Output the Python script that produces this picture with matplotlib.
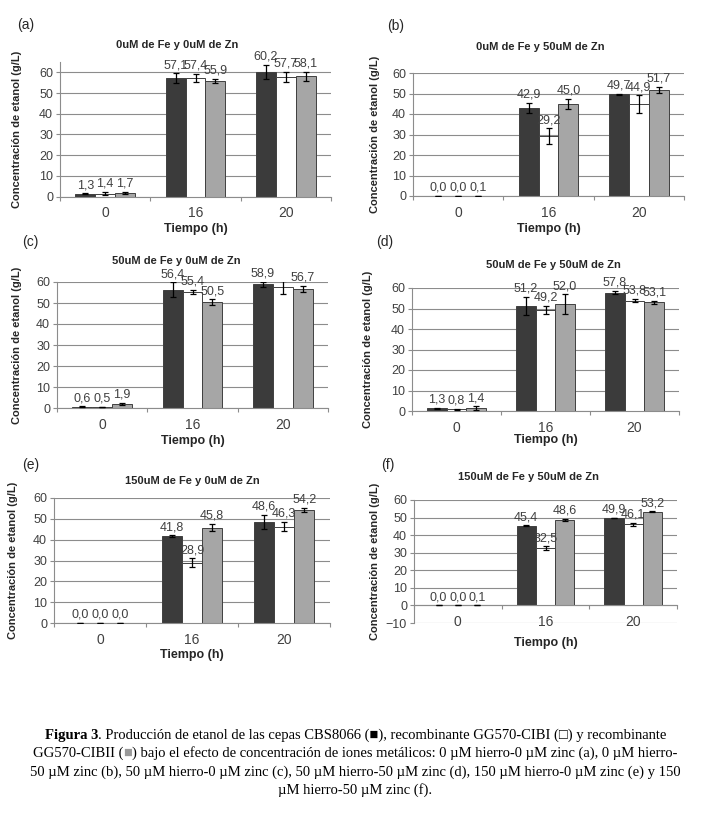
import matplotlib
matplotlib.use("Agg")
import matplotlib.pyplot as plt
import numpy as np

W, H = 711, 826

TIMES = ["0", "16", "20"]

# (a) 0uM de Fe y 0uM de Zn
a_cbs = [1.3, 57.1, 60.2]
a_cibi = [1.4, 57.4, 57.7]
a_cibii = [1.7, 55.9, 58.1]
a_cbs_err = [0.3, 2.4, 3.4]
a_cibi_err = [0.8, 1.9, 2.5]
a_cibii_err = [0.6, 1.1, 2.1]

# (b) 0uM de Fe y 50uM de Zn
b_cbs = [0.0, 42.9, 49.7]
b_cibi = [0.0, 29.2, 44.9]
b_cibii = [0.1, 45.0, 51.7]
b_cbs_err = [0.0, 2.5, 0.3]
b_cibi_err = [0.0, 3.8, 4.3]
b_cibii_err = [0.0, 2.5, 1.5]

# (c) 50uM de Fe y 0uM de Zn
c_cbs = [0.6, 56.4, 58.9]
c_cibi = [0.5, 55.4, 57.4]
c_cibii = [1.9, 50.5, 56.7]
c_cbs_err = [0.2, 3.5, 1.2]
c_cibi_err = [0.1, 1.0, 3.1]
c_cibii_err = [0.5, 1.3, 1.4]

# (d) 50uM de Fe y 50uM de Zn
d_cbs = [1.3, 51.2, 57.8]
d_cibi = [0.8, 49.2, 53.8]
d_cibii = [1.4, 52.0, 53.1]
d_cbs_err = [0.2, 4.5, 0.8]
d_cibi_err = [0.3, 2.1, 0.8]
d_cibii_err = [0.8, 4.9, 0.7]

# (e) 150uM de Fe y 0uM de Zn
e_cbs = [0.0, 41.8, 48.6]
e_cibi = [0.0, 28.9, 46.3]
e_cibii = [0.0, 45.8, 54.2]
e_cbs_err = [0.0, 0.3, 3.4]
e_cibi_err = [0.0, 2.2, 2.2]
e_cibii_err = [0.0, 1.8, 1.0]

# (f) 150uM de Fe y 50uM de Zn
f_cbs = [0.0, 45.4, 49.9]
f_cibi = [0.0, 32.5, 46.1]
f_cibii = [0.1, 48.6, 53.2]
f_cbs_err = [0.0, 0.2, 0.1]
f_cibi_err = [0.0, 1.1, 0.8]
f_cibii_err = [0.0, 0.8, 0.3]

TITLES = ["0uM de Fe y 0uM de Zn", "0uM de Fe y 50uM de Zn",
          "50uM de Fe y 0uM de Zn", "50uM de Fe y 50uM de Zn",
          "150uM de Fe y 0uM de Zn", "150uM de Fe y 50uM de Zn"]
LETTERS = ["(a)", "(b)", "(c)", "(d)", "(e)", "(f)"]
YLIMS = [(0, 65), (0, 60), (0, 60), (0, 60), (0, 60), (-10, 60)]

panels = [
    ((a_cbs, a_cibi, a_cibii), (a_cbs_err, a_cibi_err, a_cibii_err)),
    ((b_cbs, b_cibi, b_cibii), (b_cbs_err, b_cibi_err, b_cibii_err)),
    ((c_cbs, c_cibi, c_cibii), (c_cbs_err, c_cibi_err, c_cibii_err)),
    ((d_cbs, d_cibi, d_cibii), (d_cbs_err, d_cibi_err, d_cibii_err)),
    ((e_cbs, e_cibi, e_cibii), (e_cbs_err, e_cibi_err, e_cibii_err)),
    ((f_cbs, f_cibi, f_cibii), (f_cbs_err, f_cibi_err, f_cibii_err)),
]

# layout in pixels: left, right, top, bottom of plot area
BOXES = [(60, 331, 62, 196.5), (413, 684, 73, 196),
         (57, 328, 282, 408), (412, 679, 288, 411),
         (54, 330, 498, 623), (414, 677, 500, 623)]
TITLE_POS = [(177, 45), (540, 47), (176, 261), (553, 265), (192, 481), (529, 477)]
LETTER_POS = [(17, 25), (387, 26), (22, 242), (376, 242), (22, 465), (381, 465)]
YLAB_X = [22, 380, 22, 373, 18, 380]
XLAB_Y = [229, 229, 441, 440, 655, 643]

COLORS = ["#3b3b3b", "#ffffff", "#a6a6a6"]
SANS = ["Liberation Sans Narrow", "Liberation Sans", "DejaVu Sans"]
GRID = "#8c8c8c"
TXT = "#404040"

plt.rcParams["font.family"] = SANS

fig = plt.figure(figsize=(W / 100, H / 100), dpi=100)

x = np.arange(len(TIMES))
bw = 0.22

for i, ((vals, errs), box) in enumerate(zip(panels, BOXES)):
    l, r, t, b = box
    ax = fig.add_axes([l / W, 1 - b / H, (r - l) / W, (b - t) / H])
    for k in range(3):
        xs = x + (k - 1) * bw
        ax.bar(xs, vals[k], bw, color=COLORS[k], edgecolor="#404040",
               linewidth=0.7, zorder=2)
        ax.errorbar(xs, vals[k], yerr=errs[k], fmt="none", ecolor="black",
                    elinewidth=0.9, capsize=2.5, capthick=0.9, zorder=3)
        for xx, v, e in zip(xs, vals[k], errs[k]):
            ax.annotate(f"{v:.1f}".replace(".", ","), xy=(xx, v + e),
                        xytext=(0, 1.5), textcoords="offset points",
                        ha="center", va="bottom", fontsize=9, color=TXT)
    ax.set_xlim(-0.5, 2.5)
    ax.set_ylim(*YLIMS[i])
    ax.set_yticks(np.arange(YLIMS[i][0], 61, 10))
    ax.yaxis.grid(True, color=GRID, linewidth=0.8, zorder=0)
    ax.set_axisbelow(True)
    ax.set_xticks(x)
    ax.set_xticklabels(TIMES)
    ax.set_xticks([-0.5, 0.5, 1.5, 2.5], minor=True)
    ax.tick_params(axis="x", which="major", length=0, pad=7, labelsize=10,
                   labelcolor=TXT)
    ax.tick_params(axis="x", which="minor", length=3, color=GRID, width=0.8)
    ax.tick_params(axis="y", length=3, color=GRID, width=0.8, labelsize=9,
                   labelcolor=TXT, pad=2)
    for s in ["top", "right"]:
        ax.spines[s].set_visible(False)
    for s in ["left", "bottom"]:
        ax.spines[s].set_color(GRID)
        ax.spines[s].set_linewidth(0.8)
    if YLIMS[i][0] < 0:
        ax.spines["bottom"].set_position(("data", 0))
    ax.set_ylabel("Concentración de etanol (g/L)", fontsize=8,
                  fontweight="bold", color="#262626")
    ax.yaxis.set_label_coords((YLAB_X[i] - l) / (r - l), 0.5)
    fig.text((l + r) / 2 / W, 1 - XLAB_Y[i] / H, "Tiempo (h)", ha="center",
             va="center", fontsize=9, fontweight="bold", color="#262626")
    tx, ty = TITLE_POS[i]
    fig.text(tx / W, 1 - ty / H, TITLES[i], ha="center", va="center",
             fontsize=8, fontweight="bold", color="#262626")
    lx, ly = LETTER_POS[i]
    fig.text(lx / W, 1 - ly / H, LETTERS[i], ha="left", va="center",
             fontsize=10, color="#262626")

# caption
SERIF = ["Liberation Serif", "DejaVu Serif"]
CAP_SIZE = 10.5
cap_lines = [
    [("Figura 3", "bold", "black"),
     (". Producción de etanol de las cepas CBS8066 (■), recombinante GG570-CIBI (□) y recombinante",
      "normal", "black")],
    [("GG570-CIBII (", "normal", "black"), ("■", "normal", "#999999"),
     (") bajo el efecto de concentración de iones metálicos: 0 µM hierro-0 µM zinc (a), 0 µM hierro-",
      "normal", "black")],
    [("50 µM zinc (b), 50 µM hierro-0 µM zinc (c), 50 µM hierro-50 µM zinc (d), 150 µM hierro-0 µM zinc (e) y 150",
      "normal", "black")],
    [("µM hierro-50 µM zinc (f).", "normal", "black")],
]
CAP_Y = [735, 753, 772, 790]

renderer = fig.canvas.get_renderer()
for pieces, yy in zip(cap_lines, CAP_Y):
    arts = [fig.text(0, 1 - yy / H, s, ha="left", va="center",
                     fontsize=CAP_SIZE, fontweight=wt, color=col, family=SERIF)
            for s, wt, col in pieces]
    widths = [a.get_window_extent(renderer).width for a in arts]
    xpos = (W - sum(widths)) / 2
    for a, wd in zip(arts, widths):
        a.set_x(xpos / W)
        xpos += wd

fig.savefig("out.png", dpi=100)
